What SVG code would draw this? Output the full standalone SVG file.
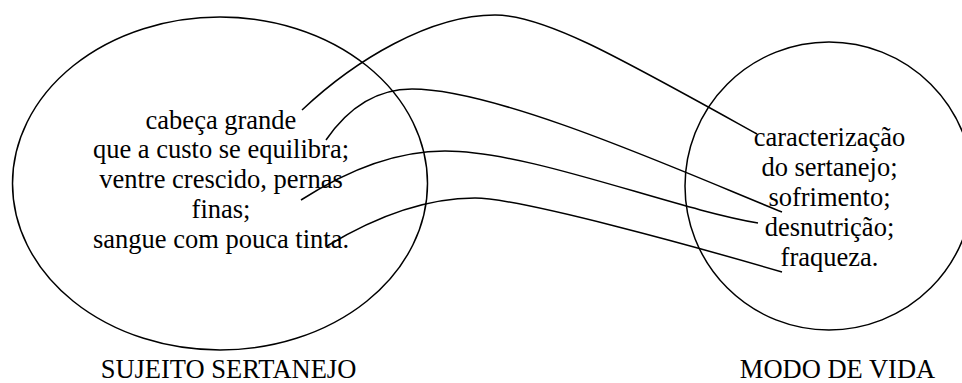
<svg xmlns="http://www.w3.org/2000/svg" width="962" height="383" viewBox="0 0 962 383">
  <style>
    .shape { fill: none; stroke: #000; stroke-width: 1.5; }
    .link { fill: none; stroke: #000; stroke-width: 1.5; }
    text { font-family: "Liberation Serif", "Times New Roman", serif; font-size: 26.5px; fill: #000; text-anchor: middle; }
  </style>
  <rect x="0" y="0" width="962" height="383" fill="#fff"/>

  <!-- Sujeito sertanejo -->
  <g id="sujeito">
    <ellipse class="shape" cx="220" cy="183.5" rx="207.5" ry="166.5"/>
    <text x="221" y="128.5">cabeça grande</text>
    <text x="221" y="158">que a custo se equilibra;</text>
    <text x="221" y="188">ventre crescido, pernas</text>
    <text x="221" y="218">finas;</text>
    <text x="221" y="247.5">sangue com pouca tinta.</text>
  </g>

  <!-- Modo de vida -->
  <g id="modo-de-vida">
    <circle class="shape" cx="829" cy="186" r="144"/>
    <text x="829.5" y="146">caracterização</text>
    <text x="829.5" y="176">do sertanejo;</text>
    <text x="829.5" y="206">sofrimento;</text>
    <text x="829.5" y="236">desnutrição;</text>
    <text x="829.5" y="266">fraqueza.</text>
  </g>

  <g id="label-sujeito">
    <text x="228.5" y="378">SUJEITO SERTANEJO</text>
  </g>
  <g id="label-modo">
    <text x="837.5" y="378">MODO DE VIDA</text>
  </g>

  <!-- connecting curves -->
  <g id="connectors">
    <path class="link" d="M302,110 C355,60 430,15 495,15 C545,15 620,58 757,134"/>
    <path class="link" d="M326,140 C348,108 375,89 412,89 C500,89 690,175 782,212"/>
    <path class="link" d="M301,200 C340,175 390,151 445,151 C530,151 670,208 758,223"/>
    <path class="link" d="M327,246 C370,220 420,198 475,198 C520,198 700,248 782,272"/>
  </g>
</svg>
